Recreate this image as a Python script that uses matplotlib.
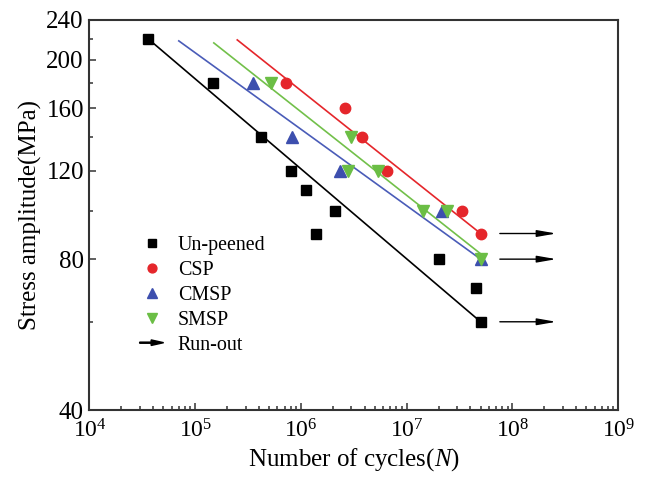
import numpy as np
import matplotlib
matplotlib.use("Agg")
import matplotlib.pyplot as plt
import matplotlib.patches as mpatches
from matplotlib.legend_handler import HandlerPatch
from matplotlib.ticker import FixedLocator, FixedFormatter, LogLocator, LogFormatterMathtext, NullFormatter

plt.rcParams['font.family'] = ['Liberation Serif', 'DejaVu Serif']
plt.rcParams['mathtext.fontset'] = 'custom'
plt.rcParams['mathtext.rm'] = 'Liberation Serif'
plt.rcParams['mathtext.it'] = 'Liberation Serif:italic'

# ---- data ----
un_N = [3.6e4, 1.47e5, 4.2e5, 8.1e5, 1.12e6, 1.39e6, 2.1e6, 2.0e7, 4.5e7, 5.0e7]
un_S = [220, 180, 140, 120, 110, 90, 100, 80, 70, 60]

csp_N = [7.3e5, 2.6e6, 3.8e6, 6.5e6, 3.3e7, 5.0e7]
csp_S = [180, 160, 140, 120, 100, 90]

cmsp_N = [3.5e5, 8.3e5, 2.35e6, 2.15e7, 5.0e7]
cmsp_S = [180, 140, 120, 100, 80]

smsp_N = [5.2e5, 2.95e6, 2.8e6, 5.4e6, 1.44e7, 2.4e7, 5.0e7]
smsp_S = [180, 140, 120, 120, 100, 100, 80]

fit_un_N, fit_un_S = [3.6e4, 5.0e7], [220, 60]
fit_csp_N, fit_csp_S = [2.5e5, 5.0e7], [219, 90]
fit_cmsp_N, fit_cmsp_S = [7.0e4, 5.0e7], [218, 80]
fit_smsp_N, fit_smsp_S = [1.5e5, 5.0e7], [216, 82]

runout_S = [90, 80, 60]
runout_N_start = 7.6e7
runout_N_end = 2.6e8

y_ticks = [40, 80, 120, 160, 200, 240]
y_minor = [60, 100, 140, 180, 220]

c_black = '#000000'
c_red = '#E5262B'
c_blue = '#3D4FAE'
c_green = '#6BBE45'
c_blue_line = '#4A5CB8'
c_green_line = '#72C04A'

fig = plt.figure(figsize=(6.48, 4.87), dpi=100)
ax = fig.add_axes([0.138, 0.158, 0.816, 0.801])
ax.set_xscale('log')
ax.set_yscale('log')

ax.plot(fit_un_N, fit_un_S, color=c_black, lw=1.2, zorder=2)
ax.plot(fit_csp_N, fit_csp_S, color=c_red, lw=1.2, zorder=2)
ax.plot(fit_cmsp_N, fit_cmsp_S, color=c_blue_line, lw=1.2, zorder=2)
ax.plot(fit_smsp_N, fit_smsp_S, color=c_green_line, lw=1.2, zorder=2)

h1, = ax.plot(un_N, un_S, 's', color=c_black, ms=6.5, ls='none', zorder=3, label='Un-peened')
h2, = ax.plot(csp_N, csp_S, 'o', color=c_red, ms=7.5, ls='none', zorder=3, label='CSP')
h3, = ax.plot(cmsp_N, cmsp_S, '^', color=c_blue, ms=8, ls='none', zorder=3, label='CMSP')
h4, = ax.plot(smsp_N, smsp_S, 'v', color=c_green, ms=8, ls='none', zorder=4, label='SMSP')

for s in runout_S:
    ax.annotate('', xy=(runout_N_end, s), xytext=(runout_N_start, s),
                arrowprops=dict(arrowstyle='-|>,head_length=1.15,head_width=0.2',
                                color='black', lw=1.0, shrinkA=0, shrinkB=0,
                                mutation_scale=10))

ax.set_xlim(1e4, 1e9)
ax.set_ylim(40, 240)

ax.yaxis.set_major_locator(FixedLocator(y_ticks))
ax.yaxis.set_major_formatter(FixedFormatter([str(v) for v in y_ticks]))
ax.yaxis.set_minor_locator(FixedLocator(y_minor))
ax.yaxis.set_minor_formatter(NullFormatter())
ax.xaxis.set_major_locator(LogLocator(base=10, numticks=10))
ax.xaxis.set_major_formatter(LogFormatterMathtext())
ax.xaxis.set_minor_locator(LogLocator(base=10, subs=np.arange(2, 10), numticks=20))
ax.xaxis.set_minor_formatter(NullFormatter())

ax.tick_params(which='both', direction='in', top=False, right=False, width=1.1, color='#333333')
ax.tick_params(which='major', length=5)
ax.tick_params(which='minor', length=3)
ax.tick_params(axis='y', labelsize=18, pad=4)
ax.tick_params(axis='x', labelsize=17, pad=7)
for sp in ax.spines.values():
    sp.set_linewidth(1.5)
    sp.set_color('#333333')

ax.set_xlabel('Number of cycles($\\it{N}$)', fontsize=18, labelpad=2)
ax.set_ylabel('Stress amplitude(MPa)', fontsize=18, labelpad=3)

def make_arrow(legend, orig_handle, xdescent, ydescent, width, height, fontsize):
    return mpatches.FancyArrow(-xdescent, height / 2 - ydescent, width, 0,
                               width=0.8, head_width=4.0, head_length=9,
                               length_includes_head=True, color='black')

arrow_handle = mpatches.FancyArrow(0, 0, 1, 0, color='black')
leg = ax.legend([h1, h2, h3, h4, arrow_handle],
                ['Un-peened', 'CSP', 'CMSP', 'SMSP', 'Run-out'],
                handler_map={mpatches.FancyArrow: HandlerPatch(patch_func=make_arrow)},
                loc='upper left', bbox_to_anchor=(0.095, 0.447), frameon=False,
                fontsize=14.4, handlelength=1.2, handletextpad=0.7,
                labelspacing=0.3, borderpad=0, borderaxespad=0, numpoints=1,
                markerscale=0.85)

fig.savefig('out.png', dpi=100)
